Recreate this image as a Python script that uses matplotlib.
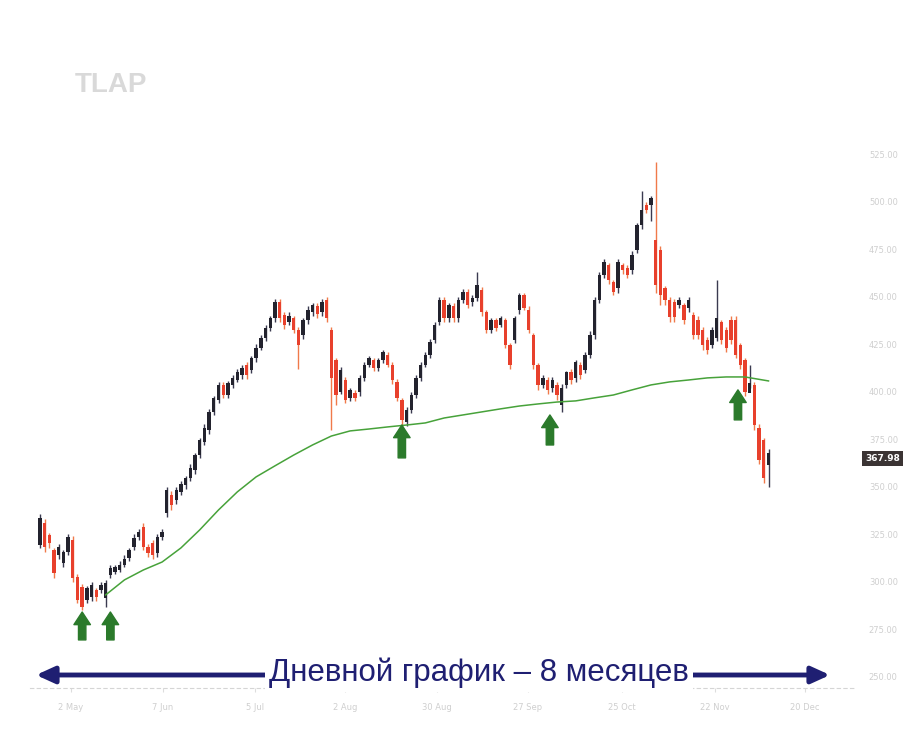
import matplotlib
matplotlib.use("Agg")
import matplotlib.pyplot as plt
import numpy as np
from matplotlib.transforms import blended_transform_factory

# daily candles, 8 months
opens = [319.5, 331.0, 324.7, 316.8, 314.2, 310.0, 315.8, 322.1, 302.6, 297.4,
         290.5, 292.1, 295.8, 295.8, 291.6, 303.7, 305.3, 306.3, 309.0, 312.6,
         318.4, 323.7, 328.9, 318.4, 320.5, 315.3, 323.7, 336.3, 345.8, 343.2,
         347.4, 351.1, 354.7, 358.9, 366.8, 373.7, 380.0, 389.5, 395.8, 403.7,
         398.4, 403.7, 406.3, 408.9, 414.2, 411.6, 417.9, 423.2, 428.4, 433.7,
         438.9, 447.4, 440.5, 436.8, 438.9, 432.6, 430.0, 437.9, 442.1, 445.3,
         442.1, 448.4, 432.6, 416.8, 400.0, 406.3, 396.9, 399.5, 400.0, 407.4,
         414.2, 416.8, 412.6, 416.8, 419.5, 414.2, 405.3, 395.8, 384.2, 390.5,
         398.4, 407.4, 414.2, 419.5, 427.4, 436.8, 448.4, 438.9, 445.3, 438.9,
         448.4, 452.6, 447.4, 449.5, 453.7, 442.1, 432.6, 437.9, 435.3, 437.9,
         424.7, 427.4, 443.2, 451.1, 443.2, 430.0, 414.2, 403.7, 406.3, 402.1,
         403.7, 393.2, 403.7, 410.5, 407.4, 414.2, 411.6, 419.5, 430.0, 448.4,
         461.6, 466.8, 457.9, 454.7, 466.8, 465.2, 464.2, 474.7, 487.9, 498.4,
         498.4, 480.0, 474.7, 454.7, 448.4, 447.4, 445.8, 445.8, 444.2, 440.5,
         437.9, 432.6, 427.4, 424.7, 428.4, 436.8, 432.6, 437.9, 437.9, 424.7,
         416.8, 399.5, 403.7, 381.0, 374.7, 361.5]
closes = [333.7, 318.4, 320.5, 304.7, 318.4, 315.8, 323.7, 302.1, 290.5, 287.0,
          296.9, 298.4, 292.1, 298.4, 299.5, 307.4, 307.9, 309.0, 312.1, 316.8,
          323.2, 326.3, 318.4, 315.3, 314.2, 323.7, 326.3, 348.4, 340.5, 348.4,
          351.6, 354.7, 360.0, 366.8, 374.7, 381.0, 389.5, 396.9, 403.7, 398.4,
          404.7, 407.4, 410.5, 412.6, 408.9, 417.9, 423.2, 428.4, 433.7, 438.9,
          447.4, 438.9, 435.3, 440.0, 432.6, 424.7, 437.9, 443.2, 445.8, 441.1,
          447.4, 438.9, 407.4, 398.4, 411.6, 395.8, 401.1, 396.9, 407.4, 414.2,
          417.9, 412.6, 416.8, 421.1, 414.2, 406.3, 396.9, 385.3, 390.5, 398.4,
          407.4, 414.2, 419.5, 426.3, 435.3, 448.4, 438.9, 445.8, 438.9, 448.4,
          452.6, 445.8, 449.5, 456.3, 442.1, 432.6, 437.9, 433.7, 438.9, 424.7,
          414.2, 438.9, 451.1, 444.2, 432.6, 414.2, 403.7, 407.4, 401.1, 406.3,
          398.4, 402.1, 410.5, 406.3, 415.8, 408.9, 419.5, 430.0, 448.4, 461.6,
          468.4, 458.9, 452.6, 468.4, 464.2, 461.6, 472.1, 487.9, 495.8, 495.8,
          502.1, 456.3, 451.1, 448.4, 439.5, 439.5, 448.4, 437.9, 448.4, 430.0,
          430.0, 424.7, 422.1, 432.6, 438.9, 427.4, 423.2, 427.4, 419.5, 414.2,
          400.0, 404.7, 382.6, 364.2, 354.7, 367.98]
highs = [336, 333, 326, 318, 320, 317, 325, 324, 304, 299,
         298, 300, 297, 300, 301, 309, 309, 311, 314, 318,
         325, 328, 331, 320, 322, 325, 328, 350, 348, 350,
         353, 356, 362, 368, 376, 383, 391, 398, 405, 405,
         406, 409, 412, 414, 416, 419, 425, 430, 435, 440,
         449, 449, 442, 442, 440, 434, 439, 445, 447, 447,
         449, 450, 434, 418, 413, 408, 402, 401, 409, 416,
         419, 418, 418, 422, 421, 416, 407, 397, 392, 400,
         409, 416, 421, 428, 437, 450, 450, 447, 447, 450,
         454, 454, 451, 463, 455, 443, 439, 439, 440, 439,
         426, 440, 452, 452, 445, 431, 415, 409, 408, 408,
         405, 404, 411, 412, 417, 416, 421, 432, 450, 463,
         470, 468, 459, 470, 468, 467, 474, 489, 506, 500,
         503, 521, 477, 456, 450, 449, 450, 447, 450, 442,
         440, 434, 429, 434, 459, 438, 434, 440, 440, 426,
         418, 414, 405, 383, 376, 370]
lows = [318, 316, 318, 302, 312, 308, 314, 300, 289, 285,
        289, 290, 290, 294, 287, 302, 304, 305, 308, 311,
        317, 322, 317, 313, 312, 313, 322, 334, 338, 341,
        346, 349, 353, 357, 365, 372, 378, 388, 394, 397,
        397, 402, 405, 407, 407, 410, 416, 422, 427, 432,
        437, 437, 433, 435, 431, 412, 428, 436, 440, 439,
        440, 437, 380, 393, 399, 394, 395, 395, 398, 406,
        413, 411, 411, 415, 413, 404, 395, 381, 382, 389,
        397, 406, 413, 418, 426, 435, 437, 437, 437, 437,
        447, 444, 445, 448, 440, 431, 431, 432, 434, 423,
        412, 426, 441, 443, 431, 412, 401, 402, 399, 400,
        396, 389.5, 402, 404, 405, 407, 410, 418, 428, 447,
        460, 457, 451, 452, 462, 460, 462, 473, 486, 494,
        490, 452, 446, 446, 437, 437, 444, 436, 442, 428,
        428, 422, 420, 423, 427, 425, 421, 425, 418, 412,
        398, 402, 380, 362, 352, 350]

# moving average (green line)
ma_idx = [14, 18, 22, 26, 30, 34, 38, 42, 46, 50, 54, 58, 62, 66, 70, 74, 78, 82,
          86, 90, 94, 98, 102, 106, 110, 114, 118, 122, 126, 130, 134, 138, 142,
          146, 150, 155]
ma_val = [293.2, 301.1, 306.3, 310.5, 317.9, 327.4, 337.9, 347.4, 355.3, 361.1,
          366.8, 372.1, 376.8, 379.5, 380.5, 381.6, 382.6, 383.7, 386.3, 387.9,
          389.5, 391.1, 392.6, 393.7, 394.7, 395.3, 396.9, 398.4, 401.1, 403.7,
          405.3, 406.3, 407.4, 407.9, 407.9, 405.8]

# support arrows: candle index, tip price, base price
arrow_idx = [9, 15, 77, 108.5, 148.5]
arrow_tip = [284.2, 284.2, 382.6, 387.9, 401.1]
arrow_base = [269.5, 269.5, 365.3, 372.1, 385.3]

tick_pos = [6.6, 26.2, 45.7, 64.9, 84.5, 103.8, 123.8, 143.6, 162.8]
tick_lab = ['2 May', '7 Jun', '5 Jul', '2 Aug', '30 Aug', '27 Sep', '25 Oct', '22 Nov', '20 Dec']
price_ticks = [250, 275, 300, 325, 350, 375, 400, 425, 450, 475, 500, 525]
last_price = 367.98

fig = plt.figure(figsize=(9.1, 7.5), dpi=100)
ax = fig.add_axes([30/910, 1-688/750, 825/910, 548/750])

x = np.arange(len(opens))
o = np.array(opens)
c = np.array(closes)
up = c >= o
body_col = np.where(up, '#23232e', '#e8402c')
wick_col = np.where(up, '#3a3a50', '#f07a4a')

ax.vlines(x, lows, highs, colors=wick_col, linewidth=1.0, zorder=2)
ax.bar(x, np.maximum(np.abs(c - o), 1.0), bottom=np.minimum(o, c), width=0.72,
       color=body_col, zorder=3)

ax.plot(ma_idx, ma_val, color='#47a23a', linewidth=1.1, zorder=4)

for xi, t, b in zip(arrow_idx, arrow_tip, arrow_base):
    ax.annotate('', xy=(xi, t), xytext=(xi, b),
                arrowprops=dict(arrowstyle='simple,head_length=0.65,head_width=0.85,tail_width=0.38',
                                color='#2b7a2b', mutation_scale=14, shrinkA=0, shrinkB=0),
                zorder=5)

ax.set_xlim(-2.1, 173.4)
ax.set_ylim(244.2, 532.6)

ax.yaxis.tick_right()
ax.set_yticks(price_ticks)
ax.set_yticklabels(['%.2f' % v for v in price_ticks], fontsize=6, color='#cfcfcf')
ax.set_xticks(tick_pos)
ax.set_xticklabels(tick_lab, fontsize=6, color='#cfcfcf')
ax.tick_params(axis='y', length=0, pad=10)
ax.tick_params(axis='x', length=3, color='#dddddd', pad=8)

for s in ['top', 'right', 'left']:
    ax.spines[s].set_visible(False)
ax.spines['bottom'].set_color('#d5d5d5')
ax.spines['bottom'].set_linestyle((0, (3, 3)))
ax.spines['bottom'].set_linewidth(0.8)

# last price box
tr = blended_transform_factory(ax.transAxes, ax.transData)
ax.text(1.012, last_price - 3, '%.2f' % last_price, transform=tr, fontsize=6.5,
        color='white', fontweight='bold', va='center', ha='left',
        bbox=dict(boxstyle='square,pad=0.35', fc='#3b3434', ec='none'))

# watermark
fig.text(75/910, 1-92/750, 'TLAP', fontsize=20, fontweight='bold', color='#d9d9d9',
         family='Liberation Sans', ha='left', va='baseline')

# big caption arrow
ax.annotate('', xy=(830/910, 1-675/750), xytext=(36/910, 1-675/750),
            xycoords='figure fraction', textcoords='figure fraction',
            arrowprops=dict(arrowstyle='<|-|>,head_length=1.1,head_width=0.5',
                            color='#1f1f72', linewidth=3.5, shrinkA=0, shrinkB=0),
            annotation_clip=False, zorder=6)
fig.text(479/910, 1-673/750, 'Дневной график – 8 месяцев', fontsize=22.5,
         color='#1f1f72', family='Liberation Sans', ha='center', va='center',
         bbox=dict(boxstyle='square,pad=0.12', fc='white', ec='none'), zorder=7)

fig.savefig('out.png', dpi=100)
